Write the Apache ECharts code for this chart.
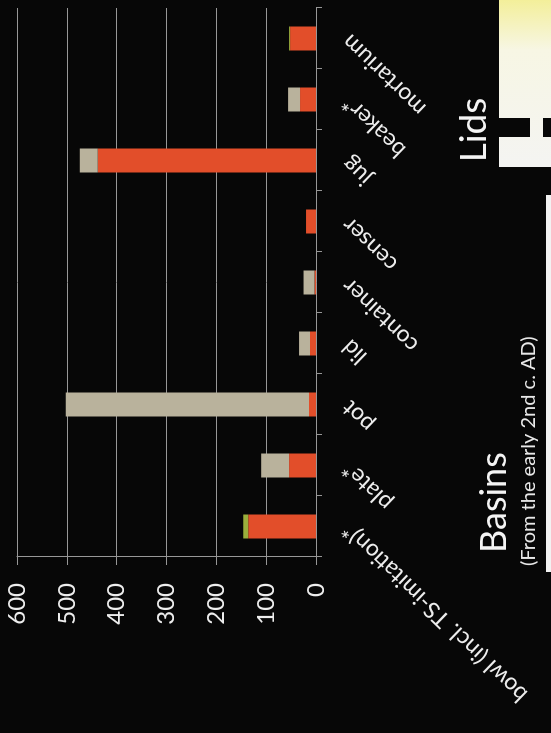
<!DOCTYPE html>
<html>
<head>
<meta charset="utf-8">
<script src="https://cdn.jsdelivr.net/npm/echarts@6/dist/echarts.min.js"></script>
<style>
  html, body { margin: 0; padding: 0; background: #070707; overflow: hidden; }
  /* the slide was photographed turned a quarter to the left */
  #main {
    position: absolute; left: 0; top: 0;
    width: 733px; height: 551px;
    transform-origin: 0 0;
    transform: translate(0, 733px) rotate(-90deg);
  }
</style>
</head>
<body>
<div id="main"></div>
<script>
  var categories = ['bowl (incl. TS-imitation)*', 'plate*', 'pot', 'lid', 'container', 'censer', 'jug', 'beaker*', 'mortarium']
  var redCounts = [136, 54, 14, 12, 3, 20, 438, 32, 52]
  var greenCounts = [10, 0, 0, 0, 0, 0, 0, 0, 2]
  var greyCounts = [0, 56, 488, 22, 22, 0, 36, 24, 0]
  var valueTicks = [0, 100, 200, 300, 400, 500, 600]

  var txt = '#ededed'
  var line = '#979797'

  var myChart = echarts.init(document.getElementById('main'))
  myChart.setOption({
    backgroundColor: '#070707',
    animation: false,
    textStyle: {fontFamily: 'Lato'},
    grid: {left: 176, right: 8, top: 17, bottom: 235},
    xAxis: {
      type: 'category',
      data: categories,
      boundaryGap: true,
      axisLine: {lineStyle: {color: line, width: 1}},
      axisTick: {show: true, length: 6, lineStyle: {color: line}},
      axisLabel: {interval: 0, rotate: 46, margin: 30, color: txt, fontSize: 23, fontFamily: 'Lato'}
    },
    yAxis: {
      type: 'value',
      min: valueTicks[0],
      max: valueTicks[valueTicks.length - 1],
      interval: 100,
      axisLine: {show: true, lineStyle: {color: line, width: 1}},
      axisTick: {show: true, length: 8, lineStyle: {color: line}},
      axisLabel: {margin: 26, color: txt, fontSize: 24, fontFamily: 'Lato'},
      splitLine: {lineStyle: {color: line, width: 1}}
    },
    series: [
      {name: 'red', type: 'bar', stack: 'n', barWidth: 24, data: redCounts, itemStyle: {color: '#e24e2a'}},
      {name: 'green', type: 'bar', stack: 'n', barWidth: 24, data: greenCounts, itemStyle: {color: '#9aae3c'}},
      {name: 'grey', type: 'bar', stack: 'n', barWidth: 24, data: greyCounts, itemStyle: {color: '#b9b29c'}}
    ],
    graphic: [
      // bits of the photos at the slide's edge
      {type: 'rect', shape: {x: 566, y: 499, width: 167, height: 52}, style: {fill: new echarts.graphic.LinearGradient(1, 0, 0, 0, [{offset: 0, color: '#f3ef9a'}, {offset: 0.3, color: '#f7f6e4'}, {offset: 1, color: '#f4f4f2'}])}},
      {type: 'rect', shape: {x: 596, y: 499, width: 19, height: 31}, style: {fill: '#070707'}},
      {type: 'rect', shape: {x: 596, y: 543, width: 19, height: 8}, style: {fill: '#070707'}},
      {type: 'rect', shape: {x: 161, y: 546, width: 377, height: 5}, style: {fill: '#f2f2f2'}},
      // slide captions
      {type: 'text', x: 603, y: 474, style: {text: 'Lids', fill: '#f4f4f4', font: '37px Lato', align: 'center', verticalAlign: 'middle'}},
      {type: 'text', x: 180, y: 494, style: {text: 'Basins', fill: '#f4f4f4', font: '36px Lato', align: 'left', verticalAlign: 'middle'}},
      {type: 'text', x: 167, y: 529, style: {text: '(From the early 2nd c. AD)', fill: '#e8e8e8', font: '20px Lato', align: 'left', verticalAlign: 'middle'}}
    ]
  })
</script>
</body>
</html>
